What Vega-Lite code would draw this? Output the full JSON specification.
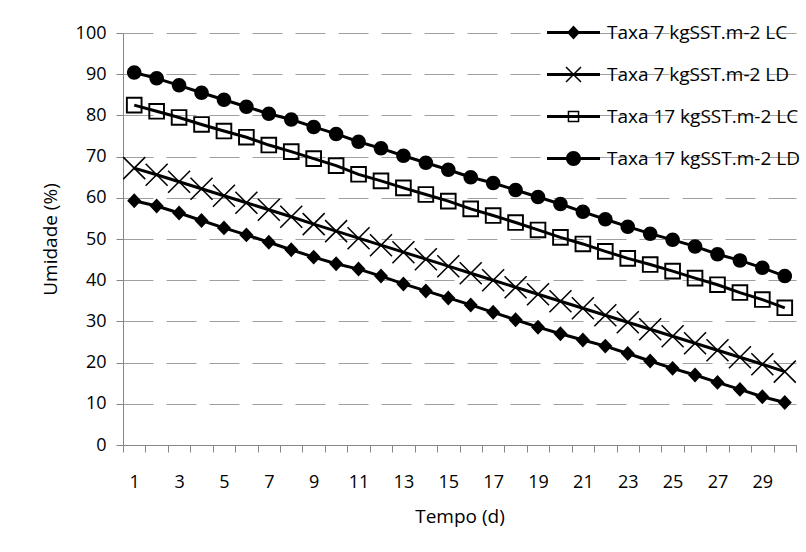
{
  "$schema": "https://vega.github.io/schema/vega-lite/v6.json",
  "width": 673,
  "height": 412,
  "autosize": {"type": "none"},
  "padding": {"left": 123, "top": 33, "right": 10, "bottom": 107},
  "background": "white",
  "config": {
    "view": {"stroke": null},
    "font": "Open Sans",
    "axis": {"labelFont": "Open Sans", "titleFont": "Open Sans", "labelFontSize": 18, "titleFontSize": 19, "labelColor": "black", "titleColor": "black", "titleFontWeight": "normal"},
    "legend": {"labelFont": "Open Sans", "labelFontSize": 19, "labelColor": "black", "labelLimit": 400}
  },
  "data": {"values": [
    {"d":1,"s":"Taxa 7 kgSST.m-2 LC","v":59.3},{"d":2,"s":"Taxa 7 kgSST.m-2 LC","v":58.0},{"d":3,"s":"Taxa 7 kgSST.m-2 LC","v":56.3},{"d":4,"s":"Taxa 7 kgSST.m-2 LC","v":54.5},{"d":5,"s":"Taxa 7 kgSST.m-2 LC","v":52.7},{"d":6,"s":"Taxa 7 kgSST.m-2 LC","v":51.0},{"d":7,"s":"Taxa 7 kgSST.m-2 LC","v":49.2},{"d":8,"s":"Taxa 7 kgSST.m-2 LC","v":47.4},{"d":9,"s":"Taxa 7 kgSST.m-2 LC","v":45.6},{"d":10,"s":"Taxa 7 kgSST.m-2 LC","v":44.0},
    {"d":11,"s":"Taxa 7 kgSST.m-2 LC","v":42.7},{"d":12,"s":"Taxa 7 kgSST.m-2 LC","v":41.0},{"d":13,"s":"Taxa 7 kgSST.m-2 LC","v":39.1},{"d":14,"s":"Taxa 7 kgSST.m-2 LC","v":37.4},{"d":15,"s":"Taxa 7 kgSST.m-2 LC","v":35.7},{"d":16,"s":"Taxa 7 kgSST.m-2 LC","v":34.0},{"d":17,"s":"Taxa 7 kgSST.m-2 LC","v":32.2},{"d":18,"s":"Taxa 7 kgSST.m-2 LC","v":30.4},{"d":19,"s":"Taxa 7 kgSST.m-2 LC","v":28.6},{"d":20,"s":"Taxa 7 kgSST.m-2 LC","v":27.0},
    {"d":21,"s":"Taxa 7 kgSST.m-2 LC","v":25.5},{"d":22,"s":"Taxa 7 kgSST.m-2 LC","v":24.0},{"d":23,"s":"Taxa 7 kgSST.m-2 LC","v":22.2},{"d":24,"s":"Taxa 7 kgSST.m-2 LC","v":20.4},{"d":25,"s":"Taxa 7 kgSST.m-2 LC","v":18.6},{"d":26,"s":"Taxa 7 kgSST.m-2 LC","v":17.0},{"d":27,"s":"Taxa 7 kgSST.m-2 LC","v":15.2},{"d":28,"s":"Taxa 7 kgSST.m-2 LC","v":13.5},{"d":29,"s":"Taxa 7 kgSST.m-2 LC","v":11.7},{"d":30,"s":"Taxa 7 kgSST.m-2 LC","v":10.3},
    {"d":1,"s":"Taxa 7 kgSST.m-2 LD","v":67.2},{"d":2,"s":"Taxa 7 kgSST.m-2 LD","v":65.6},{"d":3,"s":"Taxa 7 kgSST.m-2 LD","v":63.9},{"d":4,"s":"Taxa 7 kgSST.m-2 LD","v":62.2},{"d":5,"s":"Taxa 7 kgSST.m-2 LD","v":60.5},{"d":6,"s":"Taxa 7 kgSST.m-2 LD","v":58.8},{"d":7,"s":"Taxa 7 kgSST.m-2 LD","v":57.1},{"d":8,"s":"Taxa 7 kgSST.m-2 LD","v":55.4},{"d":9,"s":"Taxa 7 kgSST.m-2 LD","v":53.6},{"d":10,"s":"Taxa 7 kgSST.m-2 LD","v":51.9},
    {"d":11,"s":"Taxa 7 kgSST.m-2 LD","v":50.2},{"d":12,"s":"Taxa 7 kgSST.m-2 LD","v":48.5},{"d":13,"s":"Taxa 7 kgSST.m-2 LD","v":46.8},{"d":14,"s":"Taxa 7 kgSST.m-2 LD","v":45.1},{"d":15,"s":"Taxa 7 kgSST.m-2 LD","v":43.4},{"d":16,"s":"Taxa 7 kgSST.m-2 LD","v":41.7},{"d":17,"s":"Taxa 7 kgSST.m-2 LD","v":40.0},{"d":18,"s":"Taxa 7 kgSST.m-2 LD","v":38.3},{"d":19,"s":"Taxa 7 kgSST.m-2 LD","v":36.6},{"d":20,"s":"Taxa 7 kgSST.m-2 LD","v":34.9},
    {"d":21,"s":"Taxa 7 kgSST.m-2 LD","v":33.2},{"d":22,"s":"Taxa 7 kgSST.m-2 LD","v":31.5},{"d":23,"s":"Taxa 7 kgSST.m-2 LD","v":29.8},{"d":24,"s":"Taxa 7 kgSST.m-2 LD","v":28.1},{"d":25,"s":"Taxa 7 kgSST.m-2 LD","v":26.4},{"d":26,"s":"Taxa 7 kgSST.m-2 LD","v":24.7},{"d":27,"s":"Taxa 7 kgSST.m-2 LD","v":23.0},{"d":28,"s":"Taxa 7 kgSST.m-2 LD","v":21.3},{"d":29,"s":"Taxa 7 kgSST.m-2 LD","v":19.6},{"d":30,"s":"Taxa 7 kgSST.m-2 LD","v":17.8},
    {"d":1,"s":"Taxa 17 kgSST.m-2 LC","v":82.5},{"d":2,"s":"Taxa 17 kgSST.m-2 LC","v":81.0},{"d":3,"s":"Taxa 17 kgSST.m-2 LC","v":79.5},{"d":4,"s":"Taxa 17 kgSST.m-2 LC","v":77.8},{"d":5,"s":"Taxa 17 kgSST.m-2 LC","v":76.2},{"d":6,"s":"Taxa 17 kgSST.m-2 LC","v":74.7},{"d":7,"s":"Taxa 17 kgSST.m-2 LC","v":72.8},{"d":8,"s":"Taxa 17 kgSST.m-2 LC","v":71.2},{"d":9,"s":"Taxa 17 kgSST.m-2 LC","v":69.5},{"d":10,"s":"Taxa 17 kgSST.m-2 LC","v":67.8},
    {"d":11,"s":"Taxa 17 kgSST.m-2 LC","v":65.7},{"d":12,"s":"Taxa 17 kgSST.m-2 LC","v":64.1},{"d":13,"s":"Taxa 17 kgSST.m-2 LC","v":62.4},{"d":14,"s":"Taxa 17 kgSST.m-2 LC","v":60.8},{"d":15,"s":"Taxa 17 kgSST.m-2 LC","v":59.2},{"d":16,"s":"Taxa 17 kgSST.m-2 LC","v":57.3},{"d":17,"s":"Taxa 17 kgSST.m-2 LC","v":55.7},{"d":18,"s":"Taxa 17 kgSST.m-2 LC","v":54.0},{"d":19,"s":"Taxa 17 kgSST.m-2 LC","v":52.2},{"d":20,"s":"Taxa 17 kgSST.m-2 LC","v":50.4},
    {"d":21,"s":"Taxa 17 kgSST.m-2 LC","v":48.8},{"d":22,"s":"Taxa 17 kgSST.m-2 LC","v":47.0},{"d":23,"s":"Taxa 17 kgSST.m-2 LC","v":45.3},{"d":24,"s":"Taxa 17 kgSST.m-2 LC","v":43.8},{"d":25,"s":"Taxa 17 kgSST.m-2 LC","v":42.2},{"d":26,"s":"Taxa 17 kgSST.m-2 LC","v":40.5},{"d":27,"s":"Taxa 17 kgSST.m-2 LC","v":38.9},{"d":28,"s":"Taxa 17 kgSST.m-2 LC","v":37.0},{"d":29,"s":"Taxa 17 kgSST.m-2 LC","v":35.3},{"d":30,"s":"Taxa 17 kgSST.m-2 LC","v":33.3},
    {"d":1,"s":"Taxa 17 kgSST.m-2 LD","v":90.4},{"d":2,"s":"Taxa 17 kgSST.m-2 LD","v":89.0},{"d":3,"s":"Taxa 17 kgSST.m-2 LD","v":87.3},{"d":4,"s":"Taxa 17 kgSST.m-2 LD","v":85.5},{"d":5,"s":"Taxa 17 kgSST.m-2 LD","v":83.8},{"d":6,"s":"Taxa 17 kgSST.m-2 LD","v":82.1},{"d":7,"s":"Taxa 17 kgSST.m-2 LD","v":80.4},{"d":8,"s":"Taxa 17 kgSST.m-2 LD","v":79.0},{"d":9,"s":"Taxa 17 kgSST.m-2 LD","v":77.2},{"d":10,"s":"Taxa 17 kgSST.m-2 LD","v":75.5},
    {"d":11,"s":"Taxa 17 kgSST.m-2 LD","v":73.6},{"d":12,"s":"Taxa 17 kgSST.m-2 LD","v":72.0},{"d":13,"s":"Taxa 17 kgSST.m-2 LD","v":70.2},{"d":14,"s":"Taxa 17 kgSST.m-2 LD","v":68.5},{"d":15,"s":"Taxa 17 kgSST.m-2 LD","v":66.8},{"d":16,"s":"Taxa 17 kgSST.m-2 LD","v":65.0},{"d":17,"s":"Taxa 17 kgSST.m-2 LD","v":63.6},{"d":18,"s":"Taxa 17 kgSST.m-2 LD","v":61.9},{"d":19,"s":"Taxa 17 kgSST.m-2 LD","v":60.2},{"d":20,"s":"Taxa 17 kgSST.m-2 LD","v":58.5},
    {"d":21,"s":"Taxa 17 kgSST.m-2 LD","v":56.6},{"d":22,"s":"Taxa 17 kgSST.m-2 LD","v":54.8},{"d":23,"s":"Taxa 17 kgSST.m-2 LD","v":53.0},{"d":24,"s":"Taxa 17 kgSST.m-2 LD","v":51.3},{"d":25,"s":"Taxa 17 kgSST.m-2 LD","v":49.8},{"d":26,"s":"Taxa 17 kgSST.m-2 LD","v":48.2},{"d":27,"s":"Taxa 17 kgSST.m-2 LD","v":46.3},{"d":28,"s":"Taxa 17 kgSST.m-2 LD","v":44.8},{"d":29,"s":"Taxa 17 kgSST.m-2 LD","v":43.0},{"d":30,"s":"Taxa 17 kgSST.m-2 LD","v":41.0}
  ]},
  "encoding": {
    "x": {
      "field": "d", "type": "ordinal",
      "scale": {"type": "band", "paddingInner": 0, "paddingOuter": 0},
      "axis": {
        "title": "Tempo (d)", "labelAngle": 0, "tickBand": "extent", "tickSize": 7, "tickColor": "#868686",
        "domainColor": "#868686", "labelPadding": 21, "titlePadding": 16, "grid": false,
        "labelExpr": "datum.value % 2 == 1 ? datum.label : ''"
      }
    },
    "y": {
      "field": "v", "type": "quantitative",
      "scale": {"domain": [0, 100], "nice": false},
      "axis": {
        "title": "Umidade (%)", "values": [0,10,20,30,40,50,60,70,80,90,100], "tickSize": 7, "tickColor": "#868686",
        "domainColor": "#868686", "labelPadding": 10, "titlePadding": 15,
        "grid": true, "gridColor": "#a0a0a0", "gridDash": [30, 13], "gridWidth": 1
      }
    }
  },
  "layer": [
    {
      "mark": {"type": "line", "color": "black", "strokeWidth": 3},
      "encoding": {"detail": {"field": "s"}}
    },
    {
      "mark": {"type": "point", "filled": true, "color": "black", "opacity": 1, "size": 484, "strokeWidth": 0},
      "encoding": {
        "shape": {
          "field": "s", "type": "nominal", "legend": null,
          "scale": {
            "domain": ["Taxa 7 kgSST.m-2 LC", "Taxa 7 kgSST.m-2 LD", "Taxa 17 kgSST.m-2 LC", "Taxa 17 kgSST.m-2 LD"],
            "range": [
              "M0,-0.68L0.64,0L0,0.68L-0.64,0Z",
              "M-0.95,-1.05L1.05,0.95L0.95,1.05L-1.05,-0.95ZM-0.95,1.05L-1.05,0.95L0.95,-1.05L1.05,-0.95Z",
              "M-0.755,-0.755H0.755V0.755H-0.755ZM-0.58,-0.58V0.58H0.58V-0.58Z",
              "M0,-0.66C0.3645,-0.66,0.66,-0.3645,0.66,0C0.66,0.3645,0.3645,0.66,0,0.66C-0.3645,0.66,-0.66,0.3645,-0.66,0C-0.66,-0.3645,-0.3645,-0.66,0,-0.66Z"
            ]
          }
        }
      }
    },
    {
      "transform": [{"filter": "datum.d < 0"}],
      "mark": {"type": "point", "filled": true, "color": "black", "opacity": 1, "size": 2809, "strokeWidth": 0},
      "encoding": {
        "shape": {
          "field": "s", "type": "nominal",
          "scale": {
            "domain": ["Taxa 7 kgSST.m-2 LC", "Taxa 7 kgSST.m-2 LD", "Taxa 17 kgSST.m-2 LC", "Taxa 17 kgSST.m-2 LD"],
            "range": [
              "M-1,-0.057H1V0.057H-1ZM0,-0.264L0.245,0L0,0.264L-0.245,0Z",
              "M-1,-0.057H1V0.057H-1ZM-0.263,-0.303L0.303,0.263L0.263,0.303L-0.303,-0.263ZM-0.263,0.303L-0.303,0.263L0.263,-0.303L0.303,-0.263Z",
              "M-1,-0.057H1V0.057H-1ZM-0.219,-0.219H0.219V0.219H-0.219ZM-0.162,-0.162V0.162H0.162V-0.162Z",
              "M-1,-0.057H1V0.057H-1ZM0,-0.283C0.156,-0.283,0.283,-0.156,0.283,0C0.283,0.156,0.156,0.283,0,0.283C-0.156,0.283,-0.283,0.156,-0.283,0C-0.283,-0.156,-0.156,-0.283,0,-0.283Z"
            ]
          },
          "legend": {
            "title": null, "orient": "none", "legendX": 424, "legendY": -27,
            "symbolSize": 2809, "symbolFillColor": "black", "symbolStrokeWidth": 0,
            "labelOffset": 7, "rowPadding": 5, "padding": 0
          }
        }
      }
    }
  ],
  "resolve": {"scale": {"shape": "independent"}, "legend": {"shape": "independent"}}
}
